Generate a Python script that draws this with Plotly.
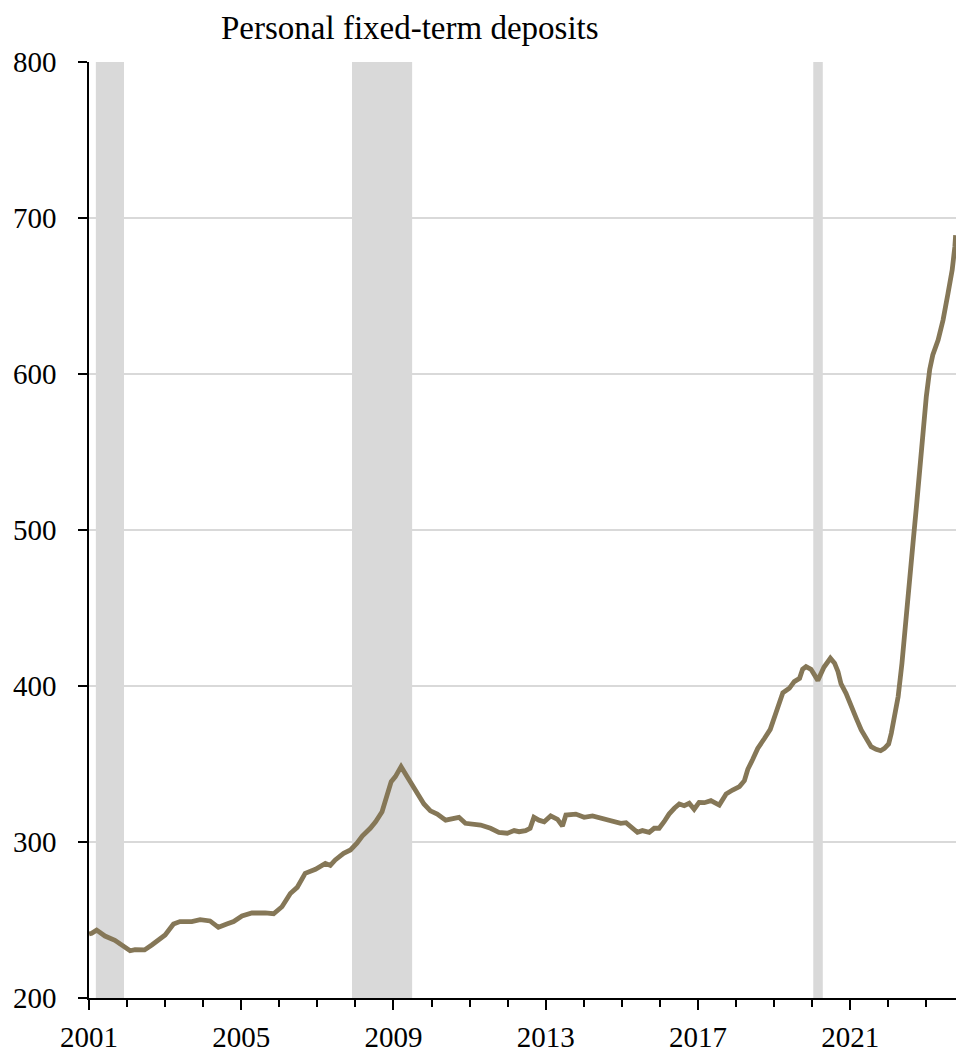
import plotly.graph_objects as go

# ---- data ----
years = [
    2001.00, 2001.07, 2001.20, 2001.42, 2001.68, 2001.90, 2002.08, 2002.21, 2002.46, 2002.65,
    2003.00, 2003.22, 2003.39, 2003.70, 2003.92, 2004.18, 2004.40, 2004.62, 2004.80, 2005.02,
    2005.28, 2005.63, 2005.85, 2006.07, 2006.29, 2006.47, 2006.68, 2006.95, 2007.21, 2007.34,
    2007.47, 2007.69, 2007.87, 2008.04, 2008.18, 2008.39, 2008.53, 2008.70, 2008.83, 2008.94,
    2009.05, 2009.20, 2009.36, 2009.53, 2009.67, 2009.80, 2009.97, 2010.15, 2010.37, 2010.59,
    2010.72, 2010.89, 2011.03, 2011.29, 2011.55, 2011.77, 2011.99, 2012.17, 2012.30, 2012.47,
    2012.59, 2012.69, 2012.82, 2012.96, 2013.13, 2013.31, 2013.44, 2013.53, 2013.79, 2014.01,
    2014.23, 2014.45, 2014.71, 2014.97, 2015.11, 2015.28, 2015.41, 2015.54, 2015.72, 2015.85,
    2015.98, 2016.11, 2016.24, 2016.38, 2016.51, 2016.64, 2016.77, 2016.90, 2017.03, 2017.17,
    2017.34, 2017.56, 2017.74, 2017.91, 2018.09, 2018.22, 2018.31, 2018.44, 2018.57, 2018.75,
    2018.90, 2019.05, 2019.23, 2019.40, 2019.53, 2019.67, 2019.75, 2019.84, 2019.97, 2020.15,
    2020.31, 2020.48, 2020.59, 2020.68, 2020.76, 2020.89, 2021.03, 2021.16, 2021.29, 2021.42,
    2021.55, 2021.68, 2021.80, 2021.90, 2022.01, 2022.08, 2022.17, 2022.26, 2022.36, 2022.47,
    2022.56, 2022.65, 2022.74, 2022.83, 2022.91, 2023.00, 2023.09, 2023.17, 2023.31, 2023.44,
    2023.57, 2023.68, 2023.75, 2023.77,
]
deposits = [
    241.0, 241.5, 243.5, 239.7, 237.0, 233.0, 230.3, 231.0, 230.8, 234.0,
    240.4, 247.4, 249.0, 249.0, 250.2, 249.4, 245.3, 247.4, 249.0, 252.6,
    254.5, 254.5, 254.0, 258.5, 267.0, 270.9, 279.9, 282.5, 286.3, 285.0,
    288.5, 292.7, 294.9, 299.2, 303.8, 308.8, 313.0, 319.4, 330.1, 338.7,
    341.9, 348.3, 341.9, 335.0, 330.1, 324.4, 320.0, 317.9, 314.0, 315.2,
    315.8, 312.0, 311.5, 310.9, 308.8, 306.2, 305.6, 307.3, 306.6, 307.3,
    308.8, 315.8, 314.0, 313.0, 316.7, 314.5, 310.3, 317.3, 317.9, 315.8,
    316.7, 315.2, 313.0, 312.0, 312.4, 309.4, 306.2, 307.3, 306.2, 308.8,
    308.8, 313.0, 317.9, 321.6, 324.4, 323.3, 324.8, 321.0, 325.4, 325.2,
    326.5, 323.7, 330.8, 333.3, 335.5, 339.3, 346.6, 353.0, 360.0, 366.5,
    372.2, 382.9, 395.7, 398.5, 402.8, 404.9, 410.7, 412.4, 410.7, 403.6,
    412.0, 417.8, 414.6, 409.2, 401.3, 395.3, 387.8, 379.3, 371.8, 365.8,
    361.1, 359.4, 358.5, 360.0, 362.8, 369.7, 382.5, 393.2, 414.6, 446.6,
    468.0, 491.5, 514.9, 540.6, 564.0, 585.5, 603.0, 612.2, 621.8, 634.6,
    651.7, 666.7, 681.6, 689.0,
]
recession_start = [2001.18, 2007.91, 2020.03]
recession_end = [2001.92, 2009.49, 2020.28]
x_tick_years = [2001, 2005, 2009, 2013, 2017, 2021]
y_ticks = [200, 300, 400, 500, 600, 700, 800]
title_text = "Personal fixed-term deposits"

FONT = "Liberation Serif, Times New Roman, serif"
LINE_COLOR = "rgb(133,119,87)"
SHADE = "#d9d9d9"

fig = go.Figure()
fig.add_trace(go.Scatter(
    x=years, y=deposits, mode="lines",
    line=dict(color=LINE_COLOR, width=4.8),
    hoverinfo="x+y", showlegend=False,
))

for s, e in zip(recession_start, recession_end):
    fig.add_shape(type="rect", xref="x", yref="paper", x0=s, x1=e, y0=0, y1=1,
                  fillcolor=SHADE, line=dict(width=0), layer="below")

fig.add_annotation(text=title_text, xref="paper", yref="paper",
                   x=0.37, y=1.0, xanchor="center", yanchor="bottom", yshift=14,
                   showarrow=False, font=dict(family=FONT, size=33, color="black"))

fig.update_layout(
    width=956, height=1064,
    margin=dict(l=89, r=0, t=62, b=66),
    paper_bgcolor="white", plot_bgcolor="white",
    font=dict(family=FONT, size=29, color="black"),
    showlegend=False,
)
fig.update_xaxes(
    range=[2001, 2023.78],
    tickmode="array", tickvals=x_tick_years, ticktext=[str(v) for v in x_tick_years],
    ticks="outside", ticklen=10, tickwidth=1.5, tickcolor="black",
    showline=True, linecolor="black", linewidth=1.5,
    showgrid=False, zeroline=False,
    minor=dict(tick0=2001, dtick=1, ticks="outside", ticklen=7, tickwidth=1.5,
               tickcolor="black", showgrid=False),
    ticklabelstandoff=2,
    automargin=False,
)
fig.update_yaxes(
    range=[200, 800],
    tickmode="array", tickvals=y_ticks,
    ticks="outside", ticklen=9, tickwidth=1.5, tickcolor="black",
    showline=True, linecolor="black", linewidth=1.5,
    showgrid=True, gridcolor=SHADE, gridwidth=1.5,
    zeroline=False,
    ticklabelstandoff=16,
    automargin=False,
)

# remove the page's default body margin so the figure fills the window exactly
fig.write_html(
    "out.html",
    config={"displayModeBar": False},
    post_script="document.body.style.margin='0';"
                "document.documentElement.style.overflow='hidden';",
)
